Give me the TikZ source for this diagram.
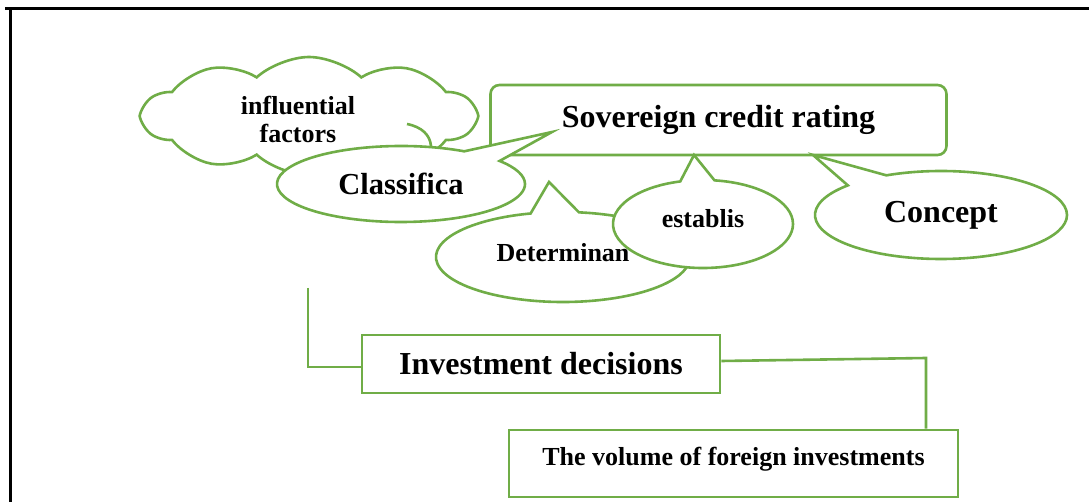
\documentclass[tikz,border=0pt]{standalone}
\usepackage{fontspec}
\setmainfont{Liberation Serif}
\usetikzlibrary{shapes.callouts,shapes.symbols}
\definecolor{grn}{HTML}{70AD47}
\begin{document}
\begin{tikzpicture}[x=1pt,y=-1pt,
  gl/.style={draw=grn,line width=2.6pt},
  bubble/.style={ellipse callout,gl,fill=white,inner sep=0pt,callout pointer arc=22},
  big/.style={font=\bfseries\fontsize{32}{36}\selectfont},
  small/.style={font=\bfseries\fontsize{26}{28}\selectfont},
  framel/.style={draw=black,line width=2.6pt}]
\useasboundingbox (0,0) rectangle (1089,502);
\fill[white] (0,0) rectangle (1089,502);
% frame
\coordinate (f1) at (5,8.5);
\coordinate (f2) at (1089,8.5);
\coordinate (f3) at (10.5,8.5);
\coordinate (f4) at (10.5,502);
\draw[framel] (f1) -- (f2);
\draw[framel] (f3) -- (f4);
% cloud
\node[cloud,gl,fill=white,cloud puffs=10,cloud puff arc=85,aspect=2.8,
      minimum width=332pt,minimum height=118pt,inner sep=0pt] (cloud) at (309,116) {};
\draw[gl] (407,124) .. controls (422,127) and (430,135) .. (431,146);
\node[small,align=center,inner sep=0pt] (cloudtxt) at (298,119) {influential\\factors};
% main box
\node[gl,big,fill=white,rounded corners=9pt,minimum width=456pt,minimum height=70pt] (sov) at (718.5,120) {Sovereign credit rating};
% bubbles
\node[bubble,font=\bfseries\fontsize{30.5}{34}\selectfont,minimum width=248pt,minimum height=76pt,
      callout absolute pointer={(552,132)}] (cls) at (401,184) {Classifica};
\node[bubble,big,minimum width=252pt,minimum height=88pt,
      callout absolute pointer={(813,155)}] (con) at (941,215) {Concept};
\node[bubble,small,minimum width=254pt,minimum height=90pt,text depth=10pt,
      callout absolute pointer={(549,182)}] (det) at (563,257) {Determinan};
\node[bubble,small,minimum width=180pt,minimum height=88pt,text depth=12pt,
      callout absolute pointer={(694,155)}] (est) at (703,224) {establis};
% lower boxes
\node[gl,big,minimum width=358pt,minimum height=58pt] (inv) at (541,364) {Investment decisions};
\node[gl,small,minimum width=449pt,inner sep=5pt,text height=30pt,text depth=27pt] (vol) at (733.5,463.5) {The volume of foreign investments};
% connectors
\coordinate (lt) at (308,288);
\draw[gl] (lt) |- ([yshift=-3pt]inv.west);
\coordinate (rt) at (926,358);
\draw[gl] ([yshift=3pt]inv.east) -- (rt) -- (rt |- vol.north);
\end{tikzpicture}
\end{document}
